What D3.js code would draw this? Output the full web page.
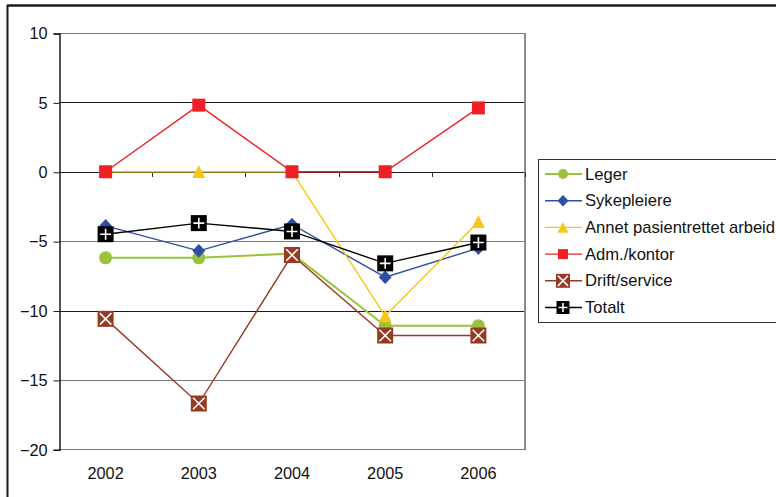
<!DOCTYPE html>
<html>
<head>
<meta charset="utf-8">
<script src="https://cdn.jsdelivr.net/npm/d3@7"></script>
<style>
  html, body { margin: 0; padding: 0; background: #fff; }
  svg { display: block; font-family: "Liberation Sans", Arial, sans-serif; }
</style>
</head>
<body>
<svg id="chart" width="776" height="497"></svg>
<script>
// Years on the category axis
const years = ["2002", "2003", "2004", "2005", "2006"];

// Change per staff group (percent)
const leger        = [-6.2, -6.2, -5.9, -11.1, -11.1];
const sykepleiere  = [-3.9, -5.7, -3.8, -7.6, -5.5];
const annet        = [0, 0, 0, -10.4, -3.6];
const admKontor    = [0, 4.8, 0, 0, 4.6];
const driftService = [-10.6, -16.7, -6.0, -11.8, -11.8];
const totalt       = [-4.5, -3.7, -4.3, -6.6, -5.1];

const seriesNames = ["Leger", "Sykepleiere", "Annet pasientrettet arbeid", "Adm./kontor", "Drift/service", "Totalt"];
const yTicks = [10, 5, 0, -5, -10, -15, -20];

const series = [
  { name: seriesNames[0], values: leger,        color: "#99c33a", width: 2,   marker: "circle" },
  { name: seriesNames[1], values: sykepleiere,  color: "#2f4fa2", width: 1.4, marker: "diamond" },
  { name: seriesNames[2], values: annet,        color: "#f7c619", width: 1.4, marker: "triangle" },
  { name: seriesNames[3], values: admKontor,    color: "#ee2024", width: 1.4, marker: "square" },
  { name: seriesNames[4], values: driftService, color: "#983a22", width: 1.4, marker: "xbox" },
  { name: seriesNames[5], values: totalt,       color: "#000000", width: 1.4, marker: "plusbox" }
];

const svg = d3.select("#chart");

// Outer chart frame (extends past the window on right and bottom)
svg.append("line").attr("x1", 7).attr("x2", 776).attr("y1", 5.5).attr("y2", 5.5)
  .attr("stroke", "#1a1a1a").attr("stroke-width", 2.5);
svg.append("line").attr("x1", 7.5).attr("x2", 7.5).attr("y1", 5).attr("y2", 497)
  .attr("stroke", "#1a1a1a").attr("stroke-width", 2);

const plot = { left: 59, right: 525, top: 33, bottom: 449.3 };

const x = d3.scaleBand().domain(years).range([plot.left, plot.right]).padding(0);
const y = d3.scaleLinear().domain([-20, 10]).range([plot.bottom, plot.top]);
const cx = d => x(d) + x.bandwidth() / 2;

// Horizontal gridlines
const gridColor = v => (v === 5 || v === 0 || v === -10) ? "#1a1a1a" : "#7a7a7a";
svg.append("g").selectAll("line").data(yTicks).join("line")
  .attr("x1", plot.left).attr("x2", plot.right)
  .attr("y1", d => Math.round(y(d)) + 0.5).attr("y2", d => Math.round(y(d)) + 0.5)
  .attr("stroke", gridColor).attr("stroke-width", 1);

// Plot border on right
svg.append("line").attr("x1", plot.right).attr("x2", plot.right)
  .attr("y1", plot.top).attr("y2", plot.bottom + 1)
  .attr("stroke", "#8c8c8c").attr("stroke-width", 2);

// Y axis
const yAxis = d3.axisLeft(y).tickValues(yTicks).tickSize(6).tickPadding(6).tickFormat(d3.format("d"));
const gy = svg.append("g").attr("transform", `translate(${plot.left + 0.5},0.5)`).call(yAxis);
gy.select(".domain").attr("stroke", "#1a1a1a").attr("stroke-width", 1.5);
gy.selectAll(".tick line").attr("stroke", "#1a1a1a");
gy.selectAll(".tick text").attr("font-size", 16.3).attr("fill", "#111")
  .attr("font-family", "Liberation Sans, Arial, sans-serif");

// X axis at zero line with tick marks between categories
const boundaries = years.map(d => x(d)).concat([plot.right]).slice(1);
svg.append("g").selectAll("line").data(boundaries).join("line")
  .attr("x1", d => Math.round(d) + 0.5).attr("x2", d => Math.round(d) + 0.5)
  .attr("y1", Math.round(y(0))).attr("y2", Math.round(y(0)) + 5)
  .attr("stroke", "#333").attr("stroke-width", 1);

// Category labels at the bottom
svg.append("g").selectAll("text").data(years).join("text")
  .attr("x", d => cx(d)).attr("y", 479)
  .attr("text-anchor", "middle").attr("font-size", 16.3).attr("fill", "#111")
  .text(d => d);

// Marker drawing
function drawMarker(g, type, color, s) {
  const h = s / 2;
  if (type === "circle") {
    g.append("circle").attr("r", h).attr("fill", color);
  } else if (type === "diamond") {
    g.append("path").attr("d", `M0,${-h * 1.05}L${h},0L0,${h * 1.05}L${-h},0Z`).attr("fill", color);
  } else if (type === "triangle") {
    g.append("path").attr("d", `M0,${-h}L${h},${h * 0.95}L${-h},${h * 0.95}Z`).attr("fill", color);
  } else if (type === "square") {
    g.append("rect").attr("x", -h).attr("y", -h).attr("width", s).attr("height", s).attr("fill", color);
  } else if (type === "xbox") {
    g.append("rect").attr("x", -h).attr("y", -h).attr("width", s).attr("height", s).attr("fill", color);
    const k = h * 0.72;
    g.append("path").attr("d", `M${-k},${-k}L${k},${k}M${k},${-k}L${-k},${k}`)
      .attr("stroke", "#fff").attr("stroke-width", 1.6);
  } else if (type === "plusbox") {
    g.append("rect").attr("x", -h).attr("y", -h).attr("width", s).attr("height", s).attr("fill", color);
    const k = h * 0.68;
    g.append("path").attr("d", `M0,${-k}L0,${k}M${-k},0L${k},0`)
      .attr("stroke", "#fff").attr("stroke-width", 1.6);
  }
}
const plotSize = { circle: 13, diamond: 13, triangle: 13, square: 13, xbox: 16, plusbox: 16 };
const legendSize = { circle: 10, diamond: 11, triangle: 11, square: 10, xbox: 14, plusbox: 13 };

const line = d3.line().x((d, i) => cx(years[i])).y(d => y(d));

// Series: line then markers, in order
series.forEach(s => {
  const g = svg.append("g");
  g.append("path").datum(s.values).attr("d", line)
    .attr("fill", "none").attr("stroke", s.color).attr("stroke-width", s.width);
  s.values.forEach((v, i) => {
    const m = g.append("g").attr("transform", `translate(${cx(years[i])},${y(v)})`);
    drawMarker(m, s.marker, s.color, plotSize[s.marker]);
  });
});

// Legend
const legend = svg.append("g");
legend.append("rect").attr("x", 538.5).attr("y", 159.5).attr("width", 260).attr("height", 163)
  .attr("fill", "#fff").attr("stroke", "#333").attr("stroke-width", 1);
series.forEach((s, i) => {
  const ly = 174 + i * 26.7;
  const row = legend.append("g").attr("transform", `translate(0,${ly})`);
  row.append("line").attr("x1", 545).attr("x2", 582).attr("y1", 0).attr("y2", 0)
    .attr("stroke", s.color).attr("stroke-width", s.width);
  drawMarker(row.append("g").attr("transform", "translate(563,0)"), s.marker, s.color, legendSize[s.marker]);
  row.append("text").attr("x", 585).attr("y", 5.5).attr("font-size", 16.6).attr("fill", "#111")
    .text(s.name);
});
</script>
</body>
</html>
